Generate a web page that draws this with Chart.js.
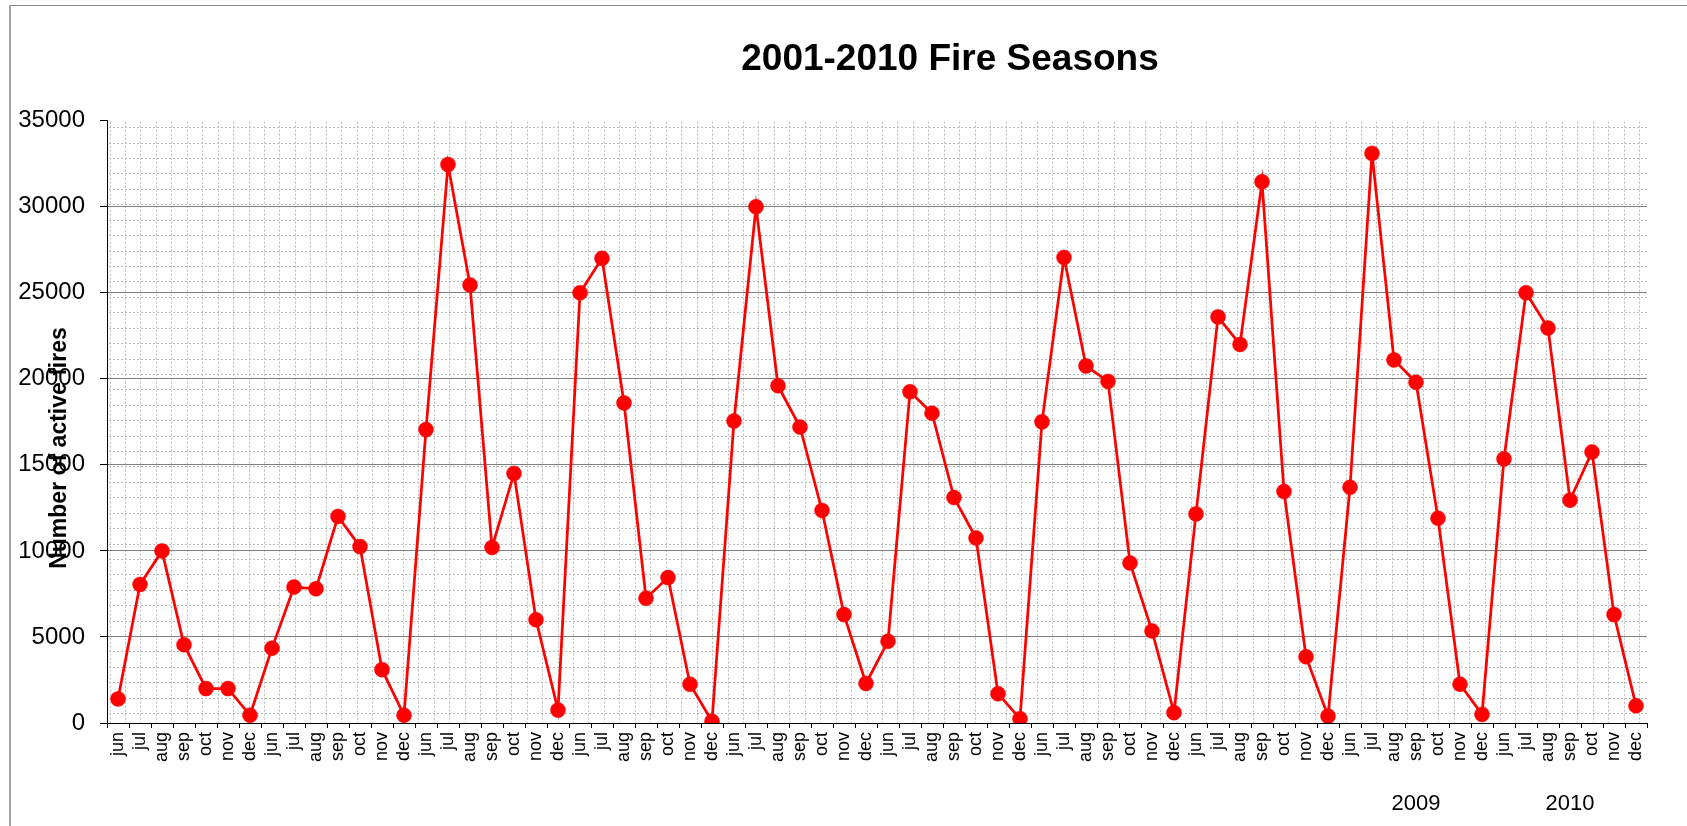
<!DOCTYPE html>
<html>
<head>
<meta charset="utf-8">
<script src="https://cdn.jsdelivr.net/npm/chart.js@4/dist/chart.umd.min.js"></script>
<style>
  html, body { margin: 0; padding: 0; background: #fff; overflow: hidden; }
  #wrap { position: absolute; left: 0; top: 0; width: 1687px; height: 826px; }
  #frame { position: absolute; left: 9px; top: 5px; width: 1700px; height: 900px;
           border-left: 2px solid #a6a6a6; border-top: 1px solid #8a8a8a; pointer-events: none; }
</style>
</head>
<body>
<div id="wrap"><canvas id="c"></canvas></div>
<div id="frame"></div>
<script>
// ---- data ----
const months = ['jun', 'jul', 'aug', 'sep', 'oct', 'nov', 'dec'];
const years = ['2001', '2002', '2003', '2004', '2005', '2006', '2007', '2008', '2009', '2010'];
const shownYearLabels = ['2009', '2010'];
const fires2001 = [1400, 8050, 10000, 4550, 2000, 2000, 450];
const fires2002 = [4350, 7900, 7800, 12000, 10250, 3100, 450];
const fires2003 = [17050, 32450, 25450, 10200, 14500, 6000, 750];
const fires2004 = [25000, 27000, 18600, 7250, 8450, 2250, 100];
const fires2005 = [17550, 30000, 19600, 17200, 12350, 6300, 2300];
const fires2006 = [4750, 19250, 18000, 13100, 10750, 1700, 250];
const fires2007 = [17500, 27050, 20750, 19850, 9300, 5350, 600];
const fires2008 = [12150, 23600, 22000, 31450, 13450, 3850, 400];
const fires2009 = [13700, 33100, 21100, 19800, 11900, 2250, 500];
const fires2010 = [15350, 25000, 22950, 12950, 15750, 6300, 1000];
const yTicks = [0, 5000, 10000, 15000, 20000, 25000, 30000, 35000];
const chartTitle = '2001-2010 Fire Seasons';
const yTitle = 'Number of active fires';

// ---- build library inputs ----
const seasons = [fires2001, fires2002, fires2003, fires2004, fires2005,
                 fires2006, fires2007, fires2008, fires2009, fires2010];
const monthLabels = [];
const yearLabels = [];
const values = [];
seasons.forEach((s, yi) => {
  s.forEach((v, mi) => {
    monthLabels.push(months[mi]);
    values.push(v);
    yearLabels.push(mi === 3 && shownYearLabels.includes(years[yi]) ? years[yi] : '');
  });
});

const FONT = "'Liberation Sans', Arial, Helvetica, sans-serif";

// dotted background pattern of the plot area
const patternPlugin = {
  id: 'pattern',
  beforeDraw(chart) {
    const a = chart.chartArea, ctx = chart.ctx;
    ctx.save();
    ctx.strokeStyle = '#bdbdbd';
    ctx.lineWidth = 1;
    ctx.setLineDash([2, 2]);
    ctx.beginPath();
    for (let x = a.left + 2.5; x < a.right - 1; x += 15.45) {
      const px = Math.round(x) + 0.5;
      ctx.moveTo(px, a.top + 1); ctx.lineTo(px, a.bottom);
    }
    for (let y = a.top + 6.5; y < a.bottom - 1; y += 15.42) {
      const py = Math.round(y) + 0.5;
      ctx.moveTo(a.left + 2, py); ctx.lineTo(a.right, py);
    }
    ctx.stroke();
    ctx.restore();
  }
};

// chart title and rotated y-axis title
const textPlugin = {
  id: 'texts',
  afterDraw(chart) {
    const ctx = chart.ctx;
    ctx.save();
    ctx.fillStyle = '#000';
    ctx.font = 'bold 37px ' + FONT;
    ctx.textAlign = 'center';
    ctx.textBaseline = 'alphabetic';
    ctx.fillText(chartTitle, 950, 70);
    ctx.translate(65.5, 448);
    ctx.rotate(-Math.PI / 2);
    ctx.font = 'bold 23px ' + FONT;
    ctx.fillText(yTitle, 0, 0);
    ctx.restore();
  }
};

new Chart(document.getElementById('c'), {
  type: 'line',
  data: {
    labels: monthLabels,
    datasets: [{
      data: values,
      borderColor: '#ff0000',
      backgroundColor: '#ff0000',
      borderWidth: 2.75,
      pointRadius: 7.5,
      pointBorderWidth: 0.5,
      pointBorderColor: '#ff0000',
      pointBackgroundColor: '#ff0000',
      tension: 0,
      fill: false,
      xAxisID: 'x',
      yAxisID: 'y'
    }]
  },
  options: {
    responsive: true,
    maintainAspectRatio: false,
    animation: false,
    events: [],
    layout: { padding: { top: 120.7, left: 0, right: 40, bottom: 0 } },
    plugins: { legend: { display: false }, title: { display: false }, tooltip: { enabled: false } },
    scales: {
      y: {
        type: 'linear',
        min: yTicks[0],
        max: yTicks[yTicks.length - 1],
        afterBuildTicks(scale) { scale.ticks = yTicks.map(v => ({ value: v })); },
        afterFit(scale) { scale.width = 107; },
        border: { display: true, color: '#000', width: 1 },
        grid: {
          color: (c) => (c.tick && c.tick.value > yTicks[0] && c.tick.value < yTicks[yTicks.length - 1]) ? '#7f7f7f' : 'rgba(0,0,0,0)',
          tickColor: '#000',
          tickLength: 7,
          lineWidth: 1
        },
        ticks: { color: '#000', font: { family: FONT, size: 24 }, padding: 15,
                 callback: (v) => String(v) }
      },
      x: {
        type: 'category',
        weight: 0,
        offset: true,
        afterFit(scale) { scale.height = 50; },
        border: { display: true, color: '#000', width: 1 },
        grid: { offset: true, drawOnChartArea: false, tickColor: '#000', tickLength: 5 },
        ticks: { autoSkip: false, minRotation: 90, maxRotation: 90, color: '#000',
                 font: { family: FONT, size: 18 }, padding: 4 }
      },
      x2: {
        type: 'category',
        position: 'bottom',
        weight: 1,
        labels: yearLabels,
        offset: true,
        afterFit(scale) { scale.height = 53; },
        border: { display: false },
        grid: { display: false, drawTicks: false },
        ticks: { autoSkip: false, minRotation: 0, maxRotation: 0, color: '#000',
                 font: { family: FONT, size: 22 }, padding: 18 }
      }
    }
  },
  plugins: [patternPlugin, textPlugin]
});
</script>
</body>
</html>
